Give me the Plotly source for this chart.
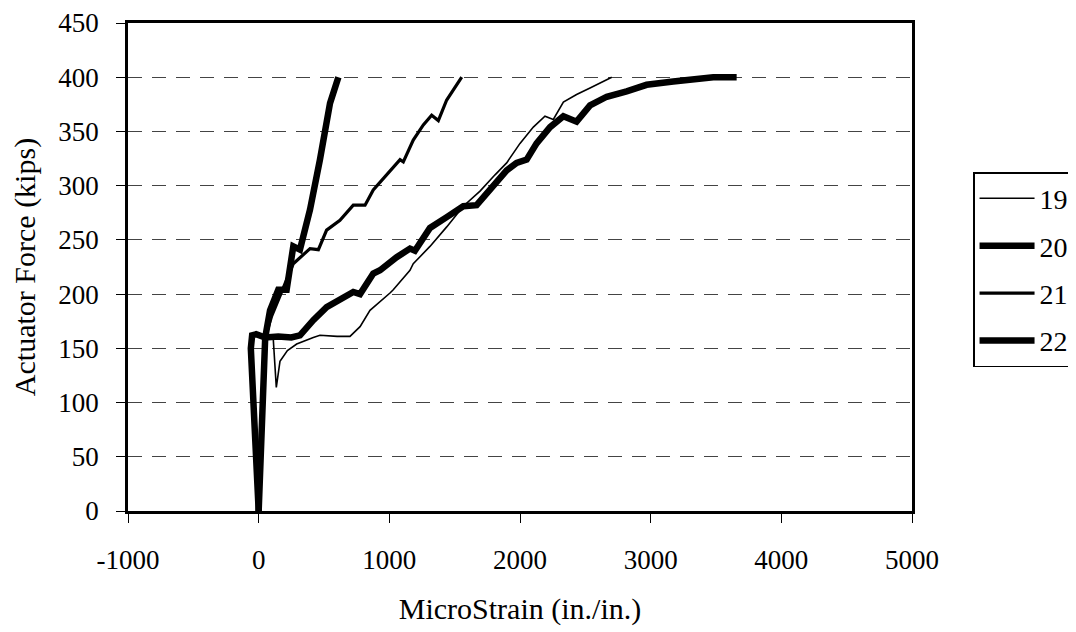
import plotly.graph_objects as go

# ---- data ----
x19 = [0, 20, 40, 80, 112, 135, 150, 163, 220, 291, 418, 469, 600, 699, 776, 852, 1005, 1030,
       1158, 1183, 1311, 1439, 1566, 1694, 1809, 1898, 2000, 2102, 2191, 2255, 2332, 2433, 2536, 2638, 2702]
y19 = [0, 80, 150, 162, 158, 114, 128, 138, 148, 154, 160, 162, 161, 161, 170, 185, 201, 204,
       222, 228, 244, 262, 281, 295, 310, 321, 339, 354, 364, 361, 377, 384, 390, 396, 400]

x20 = [0, 30, 50, 87, 150, 214, 240, 265, 316, 393, 469, 533, 546, 610]
y20 = [0, 100, 160, 185, 204, 204, 222, 244, 241, 278, 324, 364, 376, 400]

x21 = [0, 30, 50, 100, 150, 189, 265, 393, 457, 520, 622, 724, 814, 877, 1005, 1082, 1107,
       1158, 1183, 1260, 1324, 1375, 1439, 1554]
y21 = [0, 100, 160, 180, 195, 207, 228, 242, 241, 259, 268, 282, 282, 296, 314, 324, 322,
       336, 342, 356, 365, 360, 379, 400]

x22 = [0, -30, -60, -50, -20, 50, 150, 250, 316, 418, 520, 724, 776, 877, 929, 1056, 1158, 1196,
       1311, 1439, 1566, 1668, 1745, 1821, 1898, 1974, 2051, 2127, 2230, 2332, 2433, 2536, 2664,
       2816, 2969, 3173, 3352, 3479, 3658]
y22 = [0, 80, 150, 162, 163, 160, 161, 160, 162, 176, 188, 202, 200, 219, 222, 234, 242, 240,
       261, 271, 281, 282, 293, 305, 314, 321, 324, 339, 354, 364, 359, 374, 382, 387, 393,
       396, 399, 400, 400]

names = ["19", "20", "21", "22"]
xs = [x19, x20, x21, x22]
ys = [y19, y20, y21, y22]
widths = [1.6, 6.5, 3.2, 6.5]

x_ticks = [-1000, 0, 1000, 2000, 3000, 4000, 5000]
x_ticklabels = ["-1000", "0", "1000", "2000", "3000", "4000", "5000"]
y_ticks = [0, 50, 100, 150, 200, 250, 300, 350, 400, 450]

FONT = "Liberation Serif, Times New Roman, serif"

fig = go.Figure()
for n, x, y, w in zip(names, xs, ys, widths):
    fig.add_trace(go.Scatter(x=x, y=y, mode="lines", name=n, legendgroup=n,
                             line=dict(color="black", width=w)))

fig.update_layout(
    width=1068, height=624,
    margin=dict(l=120, r=164, t=15, b=121),
    paper_bgcolor="white", plot_bgcolor="white",
    font=dict(family=FONT, color="black", size=27),
    showlegend=True,
    legend=dict(xref="container", yref="container", x=0.9036, y=0.737,
                xanchor="left", yanchor="top",
                bordercolor="black", borderwidth=1.5, bgcolor="white",
                font=dict(family=FONT, size=28, color="black"),
                traceorder="grouped", tracegroupgap=8, itemwidth=55),
)
fig.update_xaxes(
    range=[-1000, 5000], tickvals=x_ticks, ticktext=x_ticklabels,
    ticks="outside", ticklen=9, tickwidth=1, tickcolor="black",
    showline=True, linecolor="black", linewidth=2.5, mirror=True,
    showgrid=False, zeroline=False, ticklabelstandoff=14, automargin=False,
    tickfont=dict(family=FONT, size=27),
    title=dict(text="MicroStrain (in./in.)", font=dict(family=FONT, size=30), standoff=24),
)
fig.update_yaxes(
    range=[0, 450], tickvals=y_ticks,
    ticks="outside", ticklen=9, tickwidth=1, tickcolor="black",
    showline=True, linecolor="black", linewidth=2.5, mirror=True,
    showgrid=True, gridcolor="#444444", gridwidth=1, griddash="14px,10px",
    zeroline=False, ticklabelstandoff=12, automargin=False,
    tickfont=dict(family=FONT, size=27),
    title=dict(text="Actuator Force (kips)", font=dict(family=FONT, size=30), standoff=14),
)

fig.write_html("out.html")
